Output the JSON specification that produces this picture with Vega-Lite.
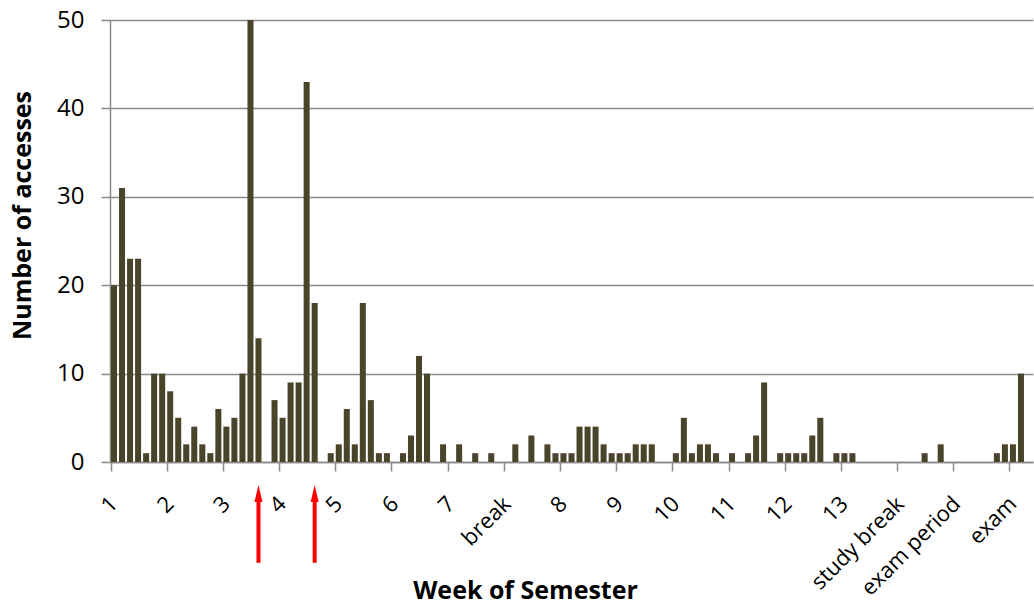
{
  "$schema": "https://vega.github.io/schema/vega-lite/v6.json",
  "autosize": {"type": "none"},
  "padding": {"left": 110, "top": 20, "right": 1, "bottom": 143},
  "width": 923,
  "height": 442,
  "background": "white",
  "config": {"view": {"stroke": null}},
  "datasets": {
    "accesses": [
      {"day": 0, "n": 20}, {"day": 1, "n": 31}, {"day": 2, "n": 23}, {"day": 3, "n": 23}, {"day": 4, "n": 1}, {"day": 5, "n": 10}, {"day": 6, "n": 10},
      {"day": 7, "n": 8}, {"day": 8, "n": 5}, {"day": 9, "n": 2}, {"day": 10, "n": 4}, {"day": 11, "n": 2}, {"day": 12, "n": 1}, {"day": 13, "n": 6},
      {"day": 14, "n": 4}, {"day": 15, "n": 5}, {"day": 16, "n": 10}, {"day": 17, "n": 50}, {"day": 18, "n": 14}, {"day": 19, "n": 0}, {"day": 20, "n": 7},
      {"day": 21, "n": 5}, {"day": 22, "n": 9}, {"day": 23, "n": 9}, {"day": 24, "n": 43}, {"day": 25, "n": 18}, {"day": 26, "n": 0}, {"day": 27, "n": 1},
      {"day": 28, "n": 2}, {"day": 29, "n": 6}, {"day": 30, "n": 2}, {"day": 31, "n": 18}, {"day": 32, "n": 7}, {"day": 33, "n": 1}, {"day": 34, "n": 1},
      {"day": 35, "n": 0}, {"day": 36, "n": 1}, {"day": 37, "n": 3}, {"day": 38, "n": 12}, {"day": 39, "n": 10}, {"day": 40, "n": 0}, {"day": 41, "n": 2},
      {"day": 42, "n": 0}, {"day": 43, "n": 2}, {"day": 44, "n": 0}, {"day": 45, "n": 1}, {"day": 46, "n": 0}, {"day": 47, "n": 1}, {"day": 48, "n": 0},
      {"day": 49, "n": 0}, {"day": 50, "n": 2}, {"day": 51, "n": 0}, {"day": 52, "n": 3}, {"day": 53, "n": 0}, {"day": 54, "n": 2}, {"day": 55, "n": 1},
      {"day": 56, "n": 1}, {"day": 57, "n": 1}, {"day": 58, "n": 4}, {"day": 59, "n": 4}, {"day": 60, "n": 4}, {"day": 61, "n": 2}, {"day": 62, "n": 1},
      {"day": 63, "n": 1}, {"day": 64, "n": 1}, {"day": 65, "n": 2}, {"day": 66, "n": 2}, {"day": 67, "n": 2}, {"day": 68, "n": 0}, {"day": 69, "n": 0},
      {"day": 70, "n": 1}, {"day": 71, "n": 5}, {"day": 72, "n": 1}, {"day": 73, "n": 2}, {"day": 74, "n": 2}, {"day": 75, "n": 1}, {"day": 76, "n": 0},
      {"day": 77, "n": 1}, {"day": 78, "n": 0}, {"day": 79, "n": 1}, {"day": 80, "n": 3}, {"day": 81, "n": 9}, {"day": 82, "n": 0}, {"day": 83, "n": 1},
      {"day": 84, "n": 1}, {"day": 85, "n": 1}, {"day": 86, "n": 1}, {"day": 87, "n": 3}, {"day": 88, "n": 5}, {"day": 89, "n": 0}, {"day": 90, "n": 1},
      {"day": 91, "n": 1}, {"day": 92, "n": 1}, {"day": 93, "n": 0}, {"day": 94, "n": 0}, {"day": 95, "n": 0}, {"day": 96, "n": 0}, {"day": 97, "n": 0},
      {"day": 98, "n": 0}, {"day": 99, "n": 0}, {"day": 100, "n": 0}, {"day": 101, "n": 1}, {"day": 102, "n": 0}, {"day": 103, "n": 2}, {"day": 104, "n": 0},
      {"day": 105, "n": 0}, {"day": 106, "n": 0}, {"day": 107, "n": 0}, {"day": 108, "n": 0}, {"day": 109, "n": 0}, {"day": 110, "n": 1}, {"day": 111, "n": 2},
      {"day": 112, "n": 2}, {"day": 113, "n": 10}, {"day": 114, "n": 0}
    ],
    "arrows": [{"day": 18}, {"day": 25}]
  },
  "layer": [
    {
      "data": {"name": "accesses"},
      "mark": {"type": "bar", "color": "#4a442b"},
      "encoding": {
        "x": {
          "field": "day",
          "type": "ordinal",
          "scale": {"paddingInner": 0.25, "paddingOuter": 0.125},
          "axis": {
            "values": [0, 7, 14, 21, 28, 35, 42, 49, 56, 63, 70, 77, 84, 91, 98, 105, 112],
            "labelExpr": "['1','2','3','4','5','6','7','break','8','9','10','11','12','13','study break','exam period','exam'][datum.value / 7]",
            "bandPosition": 0,
            "labelAngle": -45,
            "labelAlign": "right",
            "labelBaseline": "middle",
            "labelPadding": 29,
            "labelFont": "Open Sans",
            "labelFontSize": 22,
            "labelColor": "#000000",
            "labelOverlap": false,
            "labelBound": false,
            "labelFlush": false,
            "domainColor": "#8a8a8a",
            "domainWidth": 1.5,
            "tickColor": "#8a8a8a",
            "tickWidth": 1.5,
            "tickSize": 9,
            "grid": false,
            "title": "Week of Semester",
            "titleFont": "Open Sans",
            "titleFontSize": 25,
            "titleFontWeight": "bold",
            "titleColor": "#000000",
            "titleX": 415,
            "titleY": 136,
            "titleAlign": "center",
            "titleBaseline": "alphabetic"
          }
        },
        "y": {
          "field": "n",
          "type": "quantitative",
          "scale": {"domain": [0, 50], "nice": false},
          "axis": {
            "values": [0, 10, 20, 30, 40, 50],
            "grid": true,
            "gridColor": "#8a8a8a",
            "gridWidth": 1.5,
            "domainColor": "#8a8a8a",
            "domainWidth": 1.5,
            "tickColor": "#8a8a8a",
            "tickWidth": 1.5,
            "tickSize": 9,
            "labelFont": "Open Sans",
            "labelFontSize": 24,
            "labelColor": "#000000",
            "labelPadding": 17,
            "title": "Number of accesses",
            "titleFont": "Open Sans",
            "titleFontSize": 25,
            "titleFontWeight": "bold",
            "titleColor": "#000000",
            "titleAngle": -90,
            "titleX": -88,
            "titleY": 195,
            "titleAlign": "center",
            "titleBaseline": "middle"
          }
        }
      }
    },
    {
      "data": {"name": "arrows"},
      "mark": {"type": "rule", "color": "#ff0000", "strokeWidth": 4},
      "encoding": {
        "x": {"field": "day", "type": "ordinal"},
        "y": {"datum": -4.3},
        "y2": {"datum": -11.4}
      }
    },
    {
      "data": {"name": "arrows"},
      "mark": {"type": "point", "filled": true, "color": "#ff0000", "opacity": 1, "shape": "M0,-1L-0.47,1L0.47,1Z", "size": 289},
      "encoding": {
        "x": {"field": "day", "type": "ordinal"},
        "y": {"datum": -3.56}
      }
    }
  ]
}
